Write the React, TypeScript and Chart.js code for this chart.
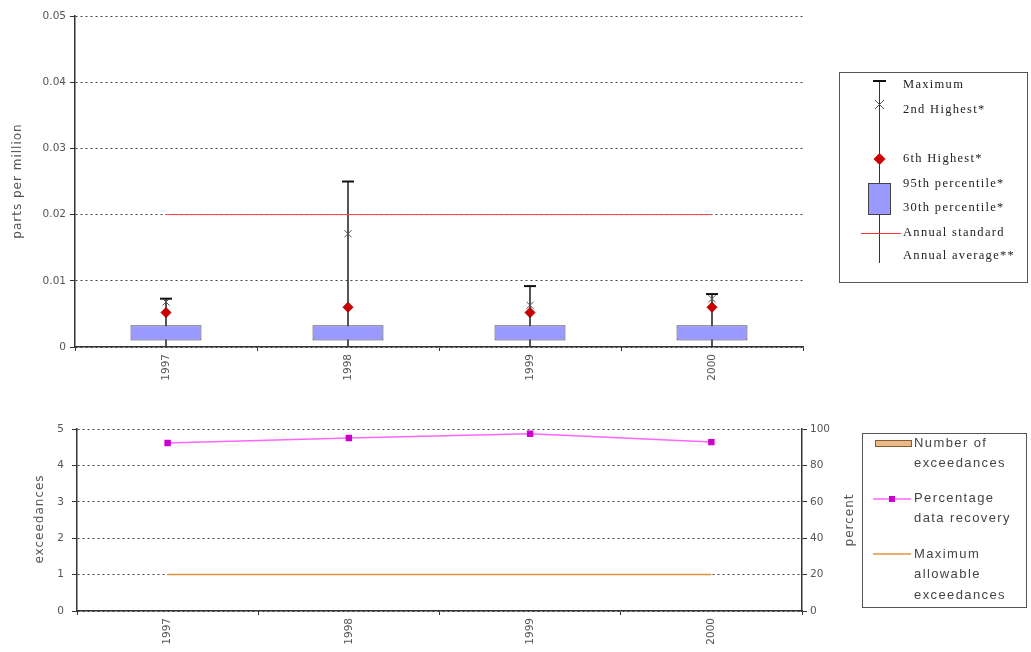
import React, { useEffect, useRef } from 'react';
import { Chart, registerables } from 'chart.js';

Chart.register(...registerables);

// Years shown on both panels
const years = ['1997', '1998', '1999', '2000'];

// Concentration statistics (parts per million)
const maximum = [0.0073, 0.025, 0.0092, 0.008];
const secondHighest = [0.0068, 0.0171, 0.0063, 0.0073];
const sixthHighest = [0.0052, 0.006, 0.0052, 0.006];
const percentile95 = [0.0033, 0.0033, 0.0033, 0.0033];
const percentile30 = [0.001, 0.001, 0.001, 0.001];
const minimum = [0, 0, 0, 0];
const annualStandard = [0.02, 0.02, 0.02, 0.02];

// Exceedance panel
const exceedances = [0, 0, 0, 0];
const dataRecovery = [92.3, 95.1, 97.4, 92.8];
const maxAllowable = [1, 1, 1, 1];

const topLegendLabels = [
  'Maximum',
  '2nd Highest*',
  '6th Highest*',
  '95th percentile*',
  '30th percentile*',
  'Annual standard',
  'Annual average**',
];
const bottomLegendLabels = [
  ['Number of', 'exceedances'],
  ['Percentage', 'data recovery'],
  ['Maximum', 'allowable', 'exceedances'],
];
const topYTitle = 'parts per million';
const bottomYTitle = 'exceedances';
const bottomY1Title = 'percent';

const TICK_FONT = { family: '"DejaVu Sans", sans-serif', size: 10.5 };
const TICK_COLOR = '#555';
const GRID_COLOR = '#444';
const BOX_FILL = '#9999ff';

const drawVerticalTitle = (ctx: CanvasRenderingContext2D, text: string, x: number, y: number) => {
  ctx.save();
  ctx.translate(x, y);
  ctx.rotate(-Math.PI / 2);
  ctx.font = '12px "DejaVu Sans", sans-serif';
  (ctx as any).letterSpacing = '1px';
  ctx.fillStyle = '#555';
  ctx.textAlign = 'center';
  ctx.textBaseline = 'middle';
  ctx.fillText(text, 0, 0);
  ctx.restore();
};

const topDecor = {
  id: 'topDecor',
  afterDraw(chart: any) {
    const ctx: CanvasRenderingContext2D = chart.ctx;
    drawVerticalTitle(ctx, topYTitle, 18, 181);

    ctx.save();
    // legend frame
    ctx.strokeStyle = '#555';
    ctx.lineWidth = 1;
    ctx.strokeRect(839.5, 72.5, 188, 210);

    const cx = 879;
    // stem
    ctx.strokeStyle = '#333';
    ctx.beginPath();
    ctx.moveTo(cx + 0.5, 80);
    ctx.lineTo(cx + 0.5, 263);
    ctx.stroke();
    // maximum cap
    ctx.lineWidth = 2;
    ctx.strokeStyle = '#111';
    ctx.beginPath();
    ctx.moveTo(cx - 6, 81);
    ctx.lineTo(cx + 7, 81);
    ctx.stroke();
    // 2nd highest cross
    ctx.lineWidth = 1;
    ctx.strokeStyle = '#555';
    ctx.beginPath();
    ctx.moveTo(cx - 4, 100);
    ctx.lineTo(cx + 5, 109);
    ctx.moveTo(cx + 5, 100);
    ctx.lineTo(cx - 4, 109);
    ctx.stroke();
    // 6th highest diamond
    ctx.fillStyle = '#cc0000';
    ctx.beginPath();
    ctx.moveTo(cx + 0.5, 153);
    ctx.lineTo(cx + 6.5, 159);
    ctx.lineTo(cx + 0.5, 165);
    ctx.lineTo(cx - 5.5, 159);
    ctx.closePath();
    ctx.fill();
    // percentile box
    ctx.fillStyle = BOX_FILL;
    ctx.fillRect(868, 183, 22, 31);
    ctx.strokeStyle = '#444';
    ctx.strokeRect(868.5, 183.5, 22, 31);
    // annual standard
    ctx.strokeStyle = '#ff3333';
    ctx.lineWidth = 1.2;
    ctx.beginPath();
    ctx.moveTo(861, 233.5);
    ctx.lineTo(901, 233.5);
    ctx.stroke();

    ctx.font = '12.5px "Liberation Serif", serif';
    (ctx as any).letterSpacing = '1.3px';
    ctx.fillStyle = '#222';
    ctx.textAlign = 'left';
    ctx.textBaseline = 'middle';
    const ys = [85, 110, 159, 184, 208, 233, 256];
    topLegendLabels.forEach((t, i) => ctx.fillText(t, 903, ys[i]));
    ctx.restore();
  },
};

const bottomDecor = {
  id: 'bottomDecor',
  afterDraw(chart: any) {
    const ctx: CanvasRenderingContext2D = chart.ctx;
    const off = 395; // canvas top on the page
    drawVerticalTitle(ctx, bottomYTitle, 40, 519 - off);
    drawVerticalTitle(ctx, bottomY1Title, 850, 520 - off);

    ctx.save();
    ctx.strokeStyle = '#555';
    ctx.lineWidth = 1;
    ctx.strokeRect(862.5, 433.5 - off, 164, 174);

    // number of exceedances swatch
    ctx.fillStyle = '#e9b98a';
    ctx.fillRect(875, 440 - off, 36, 6);
    ctx.strokeStyle = '#8b5a2b';
    ctx.strokeRect(875.5, 440.5 - off, 36, 6);
    // data recovery swatch
    ctx.strokeStyle = '#ff66ff';
    ctx.lineWidth = 1.5;
    ctx.beginPath();
    ctx.moveTo(873, 499 - off);
    ctx.lineTo(911, 499 - off);
    ctx.stroke();
    ctx.fillStyle = '#cc00cc';
    ctx.fillRect(889, 496 - off, 6, 6);
    // max allowable swatch
    ctx.strokeStyle = '#e69138';
    ctx.beginPath();
    ctx.moveTo(873, 554 - off);
    ctx.lineTo(911, 554 - off);
    ctx.stroke();

    ctx.font = '13px "Liberation Sans", sans-serif';
    (ctx as any).letterSpacing = '1.4px';
    ctx.fillStyle = '#444';
    ctx.textAlign = 'left';
    ctx.textBaseline = 'middle';
    const starts = [443, 498, 554];
    bottomLegendLabels.forEach((lines, i) => {
      lines.forEach((t, j) => ctx.fillText(t, 914, starts[i] - off + j * 20.5));
    });
    ctx.restore();
  },
};

const xScale = (height: number) => ({
  type: 'category' as const,
  offset: true,
  afterFit: (s: any) => { s.height = height; },
  grid: { offset: true, drawOnChartArea: false, tickLength: 4, color: '#333', tickBorderDash: [] },
  border: { display: true, color: '#333', width: 1.5 },
  ticks: { minRotation: 90, maxRotation: 90, font: { ...TICK_FONT, size: 10.5 }, color: TICK_COLOR, padding: 3 },
});

const TopChart = () => {
  const ref = useRef<HTMLCanvasElement>(null);
  useEffect(() => {
    const chart = new Chart(ref.current!, {
      type: 'bar',
      data: {
        labels: years,
        datasets: [
          {
            type: 'line', label: 'Maximum', data: maximum, showLine: false,
            pointStyle: 'line', pointRadius: 6, pointBorderWidth: 2, borderColor: '#111', order: 1,
          } as any,
          {
            type: 'line', label: '2nd Highest*', data: secondHighest, showLine: false,
            pointStyle: 'crossRot', pointRadius: 5, pointBorderWidth: 1, borderColor: '#555', order: 2,
          },
          {
            type: 'line', label: '6th Highest*', data: sixthHighest, showLine: false,
            pointStyle: 'rectRot', pointRadius: 5, pointBorderWidth: 1,
            backgroundColor: '#cc0000', borderColor: '#aa0000', order: 3,
          },
          {
            type: 'line', label: 'Annual standard', data: annualStandard,
            borderColor: '#ff4444', borderWidth: 1, pointRadius: 0, order: 4,
          },
          {
            type: 'bar', label: 'Percentiles', data: years.map((_, i) => [percentile30[i], percentile95[i]]),
            backgroundColor: BOX_FILL, borderColor: '#444', borderWidth: 1, borderSkipped: false,
            barPercentage: 0.39, categoryPercentage: 1, grouped: false, order: 5,
          },
          {
            type: 'bar', label: 'Range', data: years.map((_, i) => [minimum[i], maximum[i]]),
            backgroundColor: '#333', barThickness: 1, grouped: false, order: 6,
          },
        ] as any,
      },
      options: {
        animation: false,
        responsive: false,
        devicePixelRatio: 1,
        layout: { padding: { left: 0, right: 228, top: 16, bottom: 0 } },
        plugins: { legend: { display: false }, tooltip: { enabled: false } },
        scales: {
          x: xScale(48),
          y: {
            min: 0, max: 0.05,
            afterFit: (s: any) => { s.width = 75; },
            ticks: { stepSize: 0.01, font: TICK_FONT, color: TICK_COLOR, padding: 4 },
            grid: { color: GRID_COLOR, tickLength: 5, tickColor: '#333', tickBorderDash: [] },
            border: { display: true, color: '#333', width: 1.5, dash: [2, 3] },
          },
        },
      } as any,
      plugins: [topDecor],
    });
    return () => chart.destroy();
  }, []);
  return (
    <canvas ref={ref} width={1031} height={395}
      style={{ position: 'absolute', left: 0, top: 0, width: 1031, height: 395 }} />
  );
};

const BottomChart = () => {
  const ref = useRef<HTMLCanvasElement>(null);
  useEffect(() => {
    const chart = new Chart(ref.current!, {
      type: 'bar',
      data: {
        labels: years,
        datasets: [
          {
            type: 'line', label: 'Percentage data recovery', data: dataRecovery, yAxisID: 'y1',
            borderColor: '#ff66ff', borderWidth: 1.5, pointStyle: 'rect', pointRadius: 3.5,
            pointBackgroundColor: '#cc00cc', pointBorderColor: '#cc00cc', order: 1,
          },
          {
            type: 'line', label: 'Maximum allowable exceedances', data: maxAllowable, yAxisID: 'y',
            borderColor: '#e69138', borderWidth: 1.5, pointRadius: 0, order: 2,
          },
          {
            type: 'bar', label: 'Number of exceedances', data: exceedances, yAxisID: 'y',
            backgroundColor: '#e9b98a', borderWidth: 0, order: 3,
          },
        ] as any,
      },
      options: {
        animation: false,
        responsive: false,
        devicePixelRatio: 1,
        layout: { padding: { left: 0, right: 173, top: 34, bottom: 0 } },
        plugins: { legend: { display: false }, tooltip: { enabled: false } },
        scales: {
          x: xScale(41),
          y: {
            position: 'left', min: 0, max: 5,
            afterFit: (s: any) => { s.width = 77; },
            ticks: { stepSize: 1, font: TICK_FONT, color: TICK_COLOR, padding: 8 },
            grid: { color: GRID_COLOR, tickLength: 5, tickColor: '#333', tickBorderDash: [] },
            border: { display: true, color: '#333', width: 1.5, dash: [2, 3] },
          },
          y1: {
            position: 'right', min: 0, max: 100,
            afterFit: (s: any) => { s.width = 56; },
            ticks: { stepSize: 20, font: TICK_FONT, color: TICK_COLOR, padding: 3 },
            grid: { drawOnChartArea: false, tickLength: 5, color: '#333', tickBorderDash: [] },
            border: { display: true, color: '#333', width: 1.5 },
          },
        },
      } as any,
      plugins: [bottomDecor],
    });
    return () => chart.destroy();
  }, []);
  return (
    <canvas ref={ref} width={1031} height={257}
      style={{ position: 'absolute', left: 0, top: 395, width: 1031, height: 257 }} />
  );
};

export default function App() {
  return (
    <div style={{ position: 'absolute', left: 0, top: 0, width: 1031, height: 652, background: '#fff' }}>
      <TopChart />
      <BottomChart />
    </div>
  );
}
